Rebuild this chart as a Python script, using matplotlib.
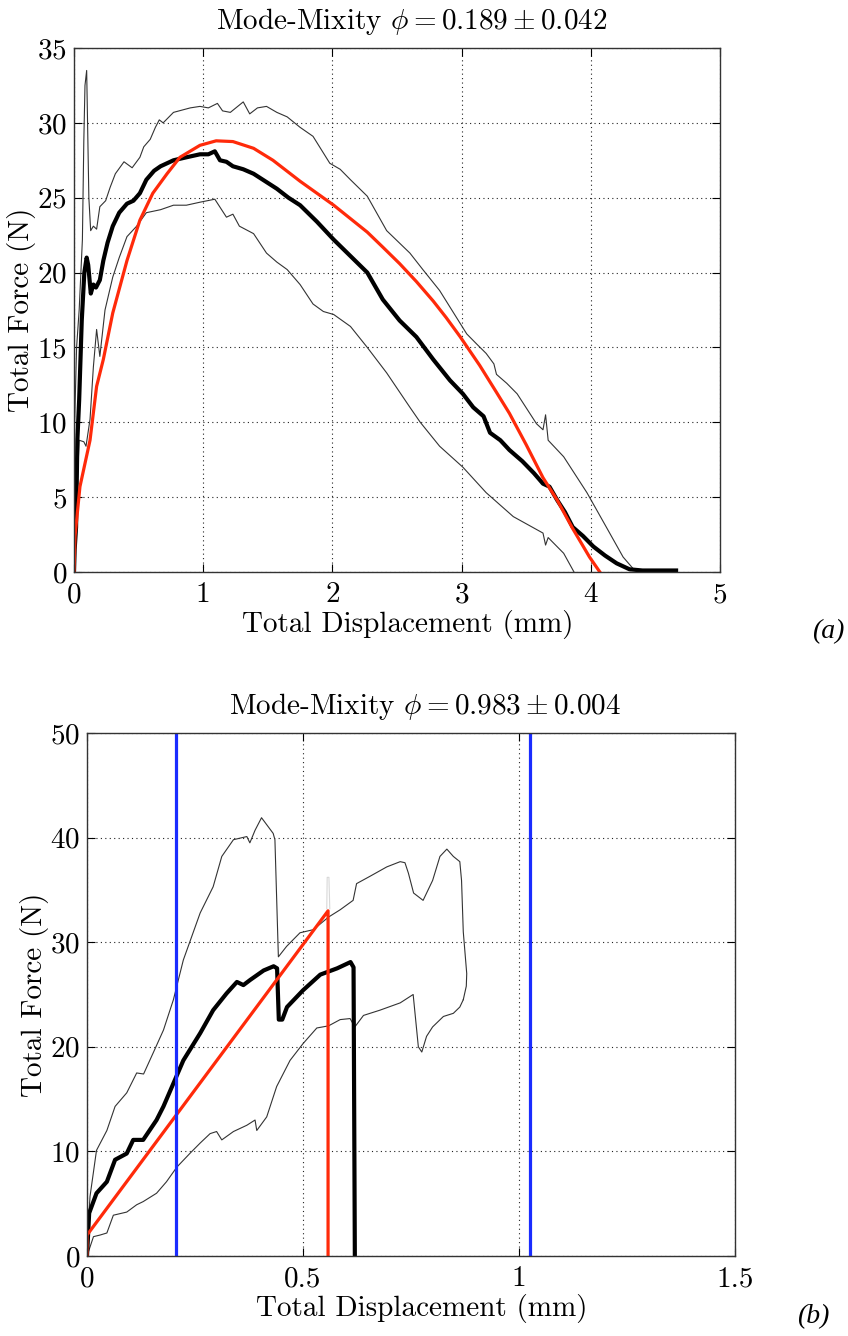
import matplotlib
matplotlib.use("Agg")
import matplotlib.pyplot as plt
import numpy as np

plt.rcParams['font.family'] = ['cmr10', 'DejaVu Serif']
plt.rcParams['mathtext.fontset'] = 'cm'
plt.rcParams['axes.formatter.use_mathtext'] = True

# ---- (a) mode-mixity 0.189 ----
a_mean_x = [0, 0.005, 0.016, 0.026, 0.04, 0.06, 0.08, 0.098, 0.11, 0.13, 0.15, 0.17, 0.2, 0.227, 0.26, 0.30,
            0.35, 0.41, 0.46, 0.51, 0.56, 0.62, 0.67, 0.77, 0.87, 0.975, 1.04, 1.09, 1.13, 1.18, 1.23, 1.31,
            1.39, 1.48, 1.57, 1.66, 1.75, 1.88, 2.01, 2.14, 2.27, 2.39, 2.52, 2.65, 2.78, 2.91, 3.01, 3.09,
            3.17, 3.22, 3.30, 3.37, 3.47, 3.56, 3.63, 3.68, 3.74, 3.80, 3.86, 3.94, 4.02, 4.11, 4.20, 4.30,
            4.40, 4.66]
a_mean_y = [0, 1.5, 3.0, 8.8, 11.5, 16.8, 20.0, 21.0, 20.5, 18.6, 19.2, 19.0, 19.5, 20.8, 22.0, 23.1,
            24.0, 24.6, 24.8, 25.3, 26.2, 26.8, 27.1, 27.5, 27.7, 27.9, 27.9, 28.1, 27.5, 27.4, 27.1, 26.9,
            26.6, 26.1, 25.6, 25.0, 24.5, 23.4, 22.2, 21.1, 20.0, 18.2, 16.8, 15.7, 14.2, 12.8, 11.9, 11.0,
            10.4, 9.3, 8.8, 8.15, 7.4, 6.6, 5.9, 5.7, 4.8, 4.0, 3.0, 2.4, 1.7, 1.1, 0.58, 0.18,
            0.1, 0.1]

a_max_x = [0, 0.005, 0.02, 0.04, 0.065, 0.076, 0.085, 0.098, 0.105, 0.115, 0.129, 0.15, 0.175, 0.2, 0.245,
           0.28, 0.32, 0.387, 0.45, 0.51, 0.54, 0.59, 0.63, 0.66, 0.69, 0.77, 0.90, 0.975, 1.04, 1.11, 1.15,
           1.21, 1.31, 1.36, 1.42, 1.49, 1.57, 1.65, 1.75, 1.85, 1.98, 2.06, 2.14, 2.27, 2.42, 2.60, 2.70,
           2.83, 3.04, 3.12, 3.19, 3.25, 3.27, 3.35, 3.43, 3.58, 3.63, 3.65, 3.67, 3.79, 3.97, 4.12,
           4.25, 4.33]
a_max_y = [0, 10, 15, 17.5, 22.2, 28.8, 32.5, 33.5, 30, 25, 22.8, 23.1, 22.9, 24.4, 24.8,
           25.7, 26.6, 27.4, 27.0, 27.7, 28.4, 28.9, 29.7, 30.2, 30.0, 30.7, 31.0, 31.1, 31.0, 31.3, 30.8,
           30.7, 31.4, 30.6, 31.0, 31.1, 30.7, 30.4, 29.7, 29.1, 27.3, 26.9, 26.2, 25.1, 22.8, 21.3, 20.2,
           18.8, 15.9, 15.2, 14.6, 13.9, 13.2, 12.6, 11.9, 9.9, 9.5, 10.5, 8.8, 7.7, 5.3, 3.0,
           1.0, 0.2]

a_min_x = [0, 0.008, 0.04, 0.076, 0.093, 0.124, 0.15, 0.175, 0.2, 0.24, 0.30, 0.35, 0.41, 0.485, 0.56,
           0.67, 0.77, 0.87, 0.975, 1.09, 1.18, 1.23, 1.28, 1.39, 1.49, 1.57, 1.65, 1.75, 1.85, 1.93,
           2.01, 2.14, 2.27, 2.42, 2.60, 2.68, 2.83, 3.01, 3.19, 3.40, 3.63, 3.65, 3.67, 3.79, 3.87]
a_min_y = [0, 2.6, 8.8, 8.7, 8.4, 10.2, 13.7, 16.2, 14.4, 17.5, 19.7, 21.0, 22.4, 23.1, 24.0,
           24.2, 24.5, 24.5, 24.7, 24.9, 23.7, 23.9, 23.1, 22.6, 21.3, 20.7, 20.2, 19.2, 17.9, 17.4,
           17.2, 16.4, 15.0, 13.3, 11.0, 10.0, 8.4, 7.0, 5.3, 3.7, 2.6, 1.8, 2.3, 1.25, 0.0]

a_fit_x = [0, 0.008, 0.046, 0.124, 0.175, 0.227, 0.30, 0.41, 0.51, 0.61, 0.72, 0.82, 0.975, 1.10, 1.23,
           1.39, 1.54, 1.75, 1.88, 2.01, 2.14, 2.27, 2.39, 2.52, 2.65, 2.78, 2.88, 2.99, 3.14, 3.27,
           3.37, 3.50, 3.63, 3.74, 3.86, 3.99, 4.07]
a_fit_y = [0, 2.4, 5.7, 8.8, 12.4, 14.2, 17.3, 20.8, 23.5, 25.3, 26.6, 27.7, 28.5, 28.8, 28.75,
           28.3, 27.5, 26.1, 25.3, 24.5, 23.6, 22.7, 21.7, 20.6, 19.4, 18.1, 17.0, 15.7, 13.8, 12.0,
           10.6, 8.5, 6.3, 4.8, 2.9, 1.0, 0]

a_xticks = [0, 1, 2, 3, 4, 5]
a_xticklabels = ['0', '1', '2', '3', '4', '5']
a_yticks = [0, 5, 10, 15, 20, 25, 30, 35]

# ---- (b) mode-mixity 0.983 ----
b_mean_x = [0, 0.005, 0.022, 0.046, 0.065, 0.092, 0.107, 0.13, 0.161, 0.177, 0.20, 0.223, 0.262, 0.292,
            0.323, 0.347, 0.362, 0.378, 0.409, 0.432, 0.44, 0.444, 0.452, 0.463, 0.50, 0.54, 0.579, 0.61,
            0.617, 0.62]
b_mean_y = [0, 4.1, 6.0, 7.1, 9.2, 9.8, 11.1, 11.1, 13.0, 14.3, 16.5, 18.7, 21.3, 23.5,
            25.1, 26.2, 25.9, 26.4, 27.3, 27.7, 27.5, 22.6, 22.6, 23.8, 25.4, 26.9, 27.5, 28.1,
            27.6, 0]

b_max_x = [0, 0.003, 0.007, 0.022, 0.046, 0.065, 0.092, 0.115, 0.131, 0.153, 0.177, 0.20, 0.223, 0.262,
           0.292, 0.312, 0.339, 0.37, 0.377, 0.389, 0.404, 0.431, 0.435, 0.443, 0.462, 0.493, 0.524, 0.559,
           0.586, 0.616, 0.624, 0.655, 0.694, 0.725, 0.736, 0.744, 0.756, 0.778, 0.80, 0.817, 0.833, 0.848,
           0.863, 0.867, 0.871, 0.879, 0.878, 0.871]
b_max_y = [0, 3.0, 5.7, 10.1, 12.0, 14.3, 15.6, 17.5, 17.4, 19.4, 21.6, 24.5, 28.3, 32.8,
           35.3, 38.2, 39.8, 40.1, 39.5, 40.7, 41.9, 40.4, 39.8, 28.6, 29.6, 30.9, 31.2, 32.4,
           33.1, 34.0, 35.6, 36.3, 37.2, 37.7, 37.6, 36.6, 34.7, 34.0, 35.9, 38.2, 38.9, 38.2,
           37.7, 35.9, 31.0, 27.0, 25.8, 24.5]

b_min_x = [0, 0.015, 0.03, 0.046, 0.061, 0.092, 0.115, 0.13, 0.161, 0.184, 0.208, 0.238, 0.262, 0.285,
           0.30, 0.312, 0.339, 0.37, 0.389, 0.393, 0.416, 0.439, 0.47, 0.50, 0.532, 0.559, 0.586, 0.609,
           0.62, 0.64, 0.678, 0.725, 0.755, 0.767, 0.775, 0.786, 0.80, 0.825, 0.848, 0.863, 0.871]
b_min_y = [0, 1.85, 2.0, 2.2, 3.9, 4.2, 4.9, 5.2, 6.0, 7.1, 8.5, 9.8, 10.8, 11.7,
           11.9, 11.1, 11.9, 12.5, 13.0, 12.0, 13.3, 16.2, 18.7, 20.3, 21.8, 22.0, 22.6, 22.7,
           21.9, 23.0, 23.5, 24.2, 25.0, 20.0, 19.5, 21.0, 21.9, 22.9, 23.2, 23.8, 24.5]

b_fit_x = [0, 0, 0.558, 0.558]
b_fit_y = [0, 2.0, 33.0, 0]
# faint trace left above the fitted peak
b_trace_x = [0.555, 0.556, 0.560, 0.562]
b_trace_y = [33.2, 36.2, 36.2, 33.2]
b_bounds = [0.205, 1.026]

b_xticks = [0, 0.5, 1, 1.5]
b_xticklabels = ['0', '0.5', '1', '1.5']
b_yticks = [0, 10, 20, 30, 40, 50]

FS = 21


def styleAxes(ax, xticks, xlabels, yticks, title):
    ax.set_xlim(xticks[0], xticks[-1])
    ax.set_ylim(yticks[0], yticks[-1])
    ax.set_xticks(xticks)
    ax.set_xticklabels(xlabels)
    ax.set_yticks(yticks)
    ax.tick_params(direction='in', length=6, width=0.8, top=True, right=True,
                   labelsize=FS, pad=7)
    ax.tick_params(axis='y', pad=5)
    ax.grid(True, linestyle=(0, (1, 3)), color='#222222', linewidth=0.8)
    ax.set_axisbelow(True)
    for s in ax.spines.values():
        s.set_linewidth(1.0)
        s.set_color('#333333')
    ax.set_xlabel('Total Displacement (mm)', fontsize=FS)
    ax.xaxis.set_label_coords(0.517, -0.072)
    ax.set_ylabel('Total Force (N)', fontsize=FS)
    ax.yaxis.set_label_coords(-0.059, 0.5)
    ax.set_title(title, fontsize=FS, x=0.522, pad=14)


def addCurves(ax, mx, my, hx, hy, lx, ly, fx, fy):
    ax.plot(hx, hy, color='#333333', linewidth=0.8)
    ax.plot(lx, ly, color='#333333', linewidth=0.8)
    ax.plot(mx, my, color='black', linewidth=3.0)
    ax.plot(fx, fy, color='#ff2a0a', linewidth=2.3)


fig = plt.figure(figsize=(8.48, 13.36), dpi=100)

axA = fig.add_axes([74 / 848, 1 - 572 / 1336, 646 / 848, 524 / 1336])
addCurves(axA, a_mean_x, a_mean_y, a_max_x, a_max_y, a_min_x, a_min_y, a_fit_x, a_fit_y)
styleAxes(axA, a_xticks, a_xticklabels, a_yticks, r'Mode-Mixity $\phi = 0.189 \pm 0.042$')

axB = fig.add_axes([87 / 848, 1 - 1256 / 1336, 648 / 848, 523 / 1336])
axB.plot(b_trace_x, b_trace_y, color='#d8d8d8', linewidth=0.8)
addCurves(axB, b_mean_x, b_mean_y, b_max_x, b_max_y, b_min_x, b_min_y, b_fit_x, b_fit_y)
for xb in b_bounds:
    axB.axvline(xb, color='#1a2cff', linewidth=2.3)
styleAxes(axB, b_xticks, b_xticklabels, b_yticks, r'Mode-Mixity $\phi = 0.983 \pm 0.004$')

fig.text(828 / 848, 1 - 632 / 1336, '(a)', family='Liberation Serif', style='italic',
         fontsize=20, ha='center', va='center')
fig.text(813 / 848, 1 - 1317 / 1336, '(b)', family='Liberation Serif', style='italic',
         fontsize=20, ha='center', va='center')

fig.savefig('out.png', dpi=100)
